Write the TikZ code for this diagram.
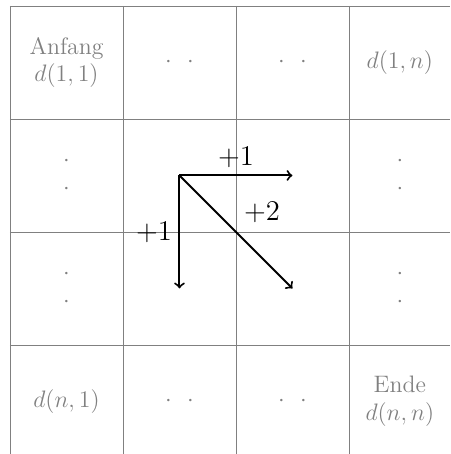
\documentclass[tikz,border=0pt]{standalone}
\usepackage{tikz}

\begin{document}
\begin{tikzpicture}[every node/.style={text=gray, font=\large}]
            \useasboundingbox (-0.177,0.106) rectangle (7.79,-7.93);
            \foreach \i in {0,2,4,6}
                {\draw[gray] (\i,0) -- (\i,-7.93);
                 \draw[gray] (0,-\i) -- (7.79,-\i);}

            \node[align=center] (anfang) at (1,-1) {Anfang\\$d(1,1)$};
            \node (top2) at (3,-1) {$\cdot$\hspace{7.7pt}$\cdot$};
            \node (top3) at (5,-1) {$\cdot$\hspace{7.7pt}$\cdot$};
            \node (topn) at (6.9,-1) {$d(1,n)$};
            \node[align=center] (left2) at (1,-3) {$\cdot$\\$\cdot$};
            \node[align=center] (left3) at (1,-5) {$\cdot$\\$\cdot$};
            \node[align=center] (right2) at (6.9,-3) {$\cdot$\\$\cdot$};
            \node[align=center] (right3) at (6.9,-5) {$\cdot$\\$\cdot$};
            \node (bot1) at (1,-7) {$d(n,1)$};
            \node (bot2) at (3,-7) {$\cdot$\hspace{7.7pt}$\cdot$};
            \node (bot3) at (5,-7) {$\cdot$\hspace{7.7pt}$\cdot$};
            \node[align=center] (ende) at (6.9,-7) {Ende\\$d(n,n)$};

            \coordinate (start) at (3,-3);
            \coordinate (right) at (5,-3);
            \coordinate (down) at (3,-5);
            \coordinate (diag) at (5,-5);
            \draw[->, line width=1pt] (start) -- (right) node[midway, above, text=black, font=\Large] {$+1$};
            \draw[->, line width=1pt] (start) -- (down) node[midway, left, text=black, font=\Large] {$+1$};
            \draw[->, line width=1pt] (start) -- (diag);
            \node[text=black, font=\Large] (plustwo) at (4.46,-3.66) {$+2$};
        \end{tikzpicture}
\end{document}
